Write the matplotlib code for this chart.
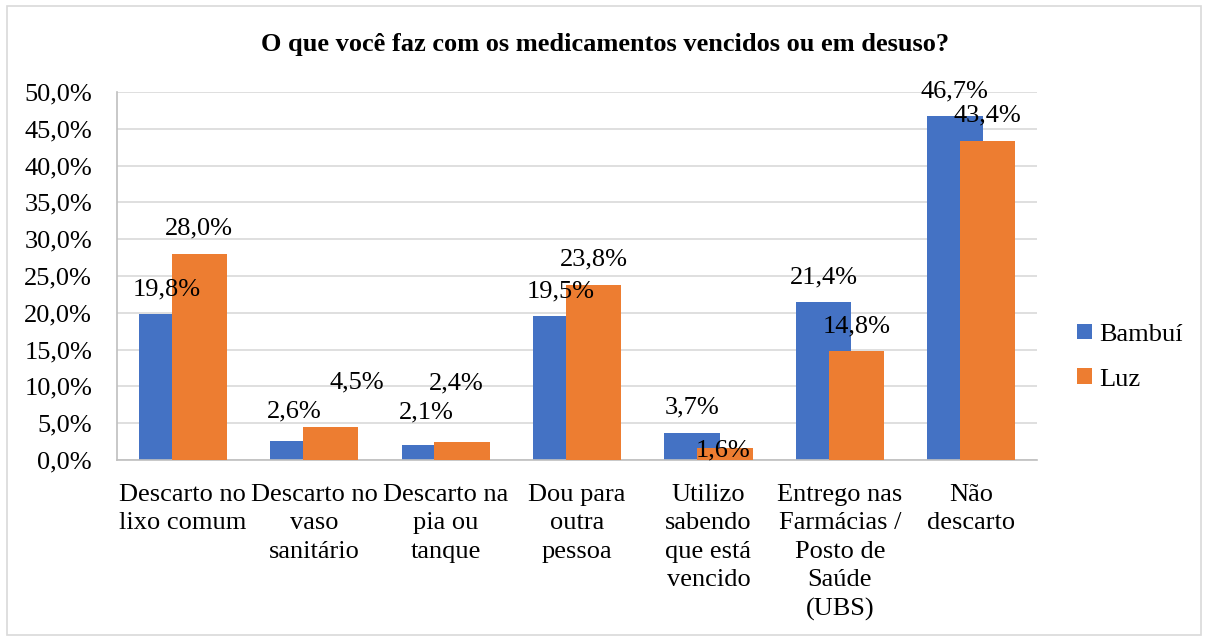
import matplotlib.pyplot as plt
import numpy as np
from matplotlib.patches import Rectangle

plt.rcParams['font.family'] = ['Liberation Serif', 'DejaVu Serif']

# categories and series values (percent)
categories = ["Descarto no\nlixo comum", "Descarto no\nvaso\nsanitário",
              "Descarto na\npia ou\ntanque", "Dou para\noutra\npessoa",
              "Utilizo\nsabendo\nque está\nvencido",
              "Entrego nas\nFarmácias /\nPosto de\nSaúde\n(UBS)", "Não\ndescarto"]
bambui = [19.8, 2.6, 2.1, 19.5, 3.7, 21.4, 46.7]
luz = [28.0, 4.5, 2.4, 23.8, 1.6, 14.8, 43.4]

BLUE = '#4472C4'
ORANGE = '#ED7D31'
FS = 19

# label nudges (in pixels) where the labels were moved apart in the original
nudge = {('Luz', 1): (26, 44), ('Luz', 2): (-6, 59), ('Bambuí', 1): (-4, 29),
         ('Bambuí', 2): (-3, 32), ('Luz', 4): (-2, -2)}

fig = plt.figure(figsize=(12.08, 6.41), dpi=100)
ax = fig.add_axes([0.0969, 0.2824, 0.7616, 0.5741])

# light border round the chart
fig.patches.append(Rectangle((0.006, 0.009), 0.988, 0.982, transform=fig.transFigure,
                             fill=False, edgecolor='#D9D9D9', linewidth=1.2))

x = np.arange(len(categories))
w = 0.42
b1 = ax.bar(x - 0.125, bambui, w, color=BLUE, label='Bambuí', zorder=2)
b2 = ax.bar(x + 0.125, luz, w, color=ORANGE, label='Luz', zorder=3)

def fmt(v):
    return ('%.1f%%' % v).replace('.', ',')

for name, bars, vals in (('Bambuí', b1, bambui), ('Luz', b2, luz)):
    for i, (r, v) in enumerate(zip(bars, vals)):
        dx, dy = nudge.get((name, i), (0, 25))
        ax.annotate(fmt(v), (r.get_x() + r.get_width() / 2, v),
                    xytext=(dx * 0.72, dy * 0.72),
                    textcoords='offset points', ha='center', va='center',
                    fontsize=FS, zorder=5)

ax.set_xlim(-0.5, len(categories) - 0.5)
ax.set_ylim(0, 50)
yt = np.arange(0, 50.1, 5)
ax.set_yticks(yt)
ax.set_yticklabels([fmt(v) for v in yt], fontsize=FS)
ax.set_xticks(x)
ax.set_xticklabels(categories, fontsize=FS, linespacing=1.38, va='top')
ax.tick_params(axis='both', length=0)
ax.tick_params(axis='x', pad=17)
ax.tick_params(axis='y', pad=18)
ax.yaxis.grid(True, color='#D9D9D9', linewidth=1.2, zorder=0)
ax.set_axisbelow(True)
for s in ['top', 'right']:
    ax.spines[s].set_visible(False)
ax.spines['left'].set_color('#BFBFBF')
ax.spines['bottom'].set_color('#BFBFBF')
ax.spines['left'].set_linewidth(1.2)
ax.spines['bottom'].set_linewidth(1.2)

fig.text(0.501, 0.93, 'O que você faz com os medicamentos vencidos ou em desuso?',
         ha='center', va='center', fontsize=FS, fontweight='bold')

fig.legend(loc='center left', bbox_to_anchor=(0.872, 0.443), frameon=False,
           fontsize=FS, handlelength=0.55, handleheight=0.55, handletextpad=0.3,
           labelspacing=0.85)

fig.savefig('out.png', dpi=100)
